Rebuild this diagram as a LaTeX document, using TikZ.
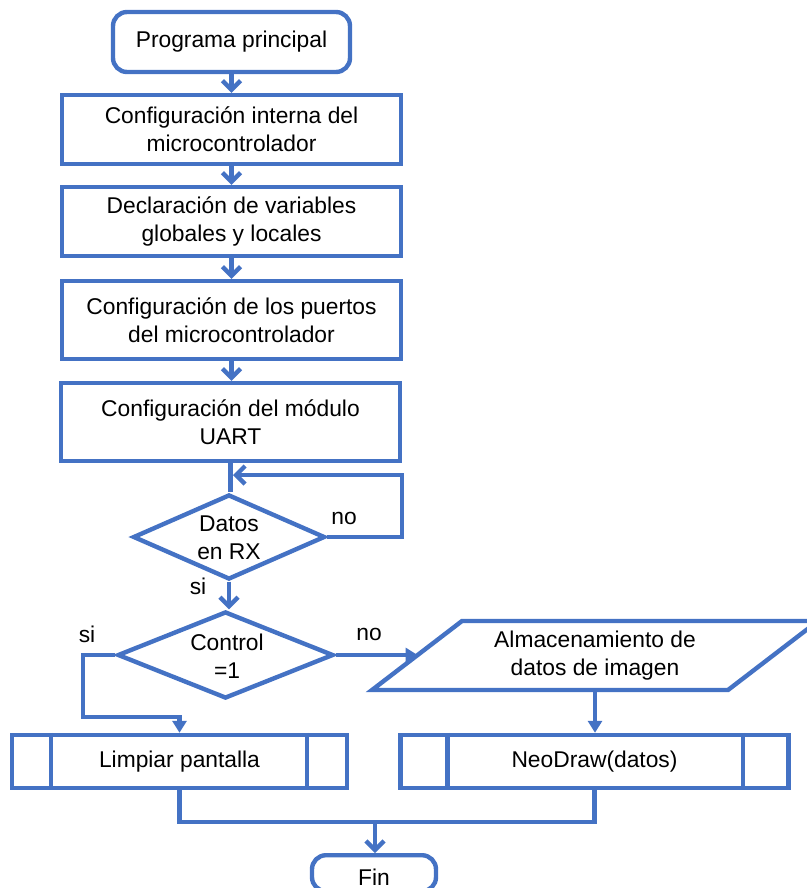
\documentclass[tikz,border=0pt]{standalone}
\usepackage{fontspec}
\setmainfont{Liberation Sans}
\usetikzlibrary{shapes.geometric,arrows.meta}
\definecolor{flow}{HTML}{4472C4}
\begin{document}
\begin{tikzpicture}[x=0.5pt,y=-0.5pt,
  every node/.style={font=\fontsize{11.4}{14}\selectfont, text=black},
  flowline/.style={draw=flow, line width=2.2pt},
  vee/.style={flowline, -{Straight Barb[length=4.5pt,width=9pt]}},
  tri/.style={flowline, -{Triangle[length=6pt,width=7pt]}},
  procbox/.style={flowline, rectangle, fill=white, align=center, inner sep=0pt},
  termbox/.style={procbox, rounded corners=7pt},
  decbox/.style={flowline, diamond, fill=white, inner sep=0pt},
  lbl/.style={inner sep=0pt, align=center}]

\useasboundingbox (0,0) rectangle (807,888);

% main column
\node[termbox, minimum width=118.5pt, minimum height=30pt] (start) at (231.5,42) {Programa principal};
\node[procbox, minimum width=169.5pt, minimum height=34.5pt] (b1) at (231.5,129.5) {Configuración interna del\\microcontrolador};
\node[procbox, minimum width=169.5pt, minimum height=34.5pt] (b2) at (231.5,221.5) {Declaración de variables\\globales y locales};
\node[procbox, minimum width=169.5pt, minimum height=39pt] (b3) at (231.5,320) {Configuración de los puertos\\del microcontrolador};
\node[procbox, minimum width=169.5pt, minimum height=39pt] (b4) at (230.5,422) {Configuración del módulo\\UART};

% decisions
\node[decbox, minimum width=96pt, minimum height=42.5pt] (d1) at (229,537) {};
\node[lbl] at (229,538) {Datos\\en RX};
\node[decbox, minimum width=108pt, minimum height=43.5pt] (d2) at (225.5,655) {};
\node[lbl] at (227,656) {Control\\=1};

% data storage (parallelogram)
\draw[flowline, fill=white] (372,690) -- (728,690) -- (818,621) -- (462,621) -- cycle;
\node[lbl] (alm) at (595,656) {Almacenamiento de\\datos de imagen};
\coordinate (almW) at (417.6,655);
\coordinate (almS) at (595,690);

% predefined processes
\node[procbox, minimum width=167.5pt, minimum height=26.5pt] (limp) at (179.5,761.5) {Limpiar pantalla};
\draw[flowline] ([xshift=20.5pt]limp.north west) -- ([xshift=20.5pt]limp.south west);
\draw[flowline] ([xshift=-21pt]limp.north east) -- ([xshift=-21pt]limp.south east);
\node[procbox, minimum width=194pt, minimum height=26.5pt] (neo) at (594.5,761.5) {NeoDraw(datos)};
\draw[flowline] ([xshift=24.5pt]neo.north west) -- ([xshift=24.5pt]neo.south west);
\draw[flowline] ([xshift=-24pt]neo.north east) -- ([xshift=-24pt]neo.south east);

% end
\node[termbox, minimum width=62pt, minimum height=18pt, anchor=north] (fin) at (374,853) {};
\node[lbl] at (374,877) {Fin};

% connectors
\draw[vee] (start.south) -- (b1.north -| start.south);
\draw[vee] (b1.south) -- (b2.north);
\draw[vee] (b2.south) -- (b3.north);
\draw[vee] (b3.south) -- (b3.south |- b4.north);
\draw[flowline] (b4.south) -- (b4.south |- d1.north);
\coordinate (loopR) at (402,475);
\coordinate (loopEnd) at (233,475);
\draw[vee] (d1.east) -| (loopR) -- (loopEnd);
\node[lbl] at (344,518) {no};

\draw[vee] (d1.south) -- (d1.south |- d2.north);
\node[lbl] at (198,586) {si};

\coordinate (siL) at (83,717);
\draw[tri] (d2.west) -| (siL) -| (limp.north);
\node[lbl] at (87,634) {si};
\draw[tri] (d2.east) -- (almW);
\node[lbl] at (369,634) {no};
\draw[tri] (almS) -- (almS |- neo.north);

\coordinate (join) at (375,822);
\draw[flowline] (limp.south) -- (limp.south |- join) -- (neo.south |- join) -- (neo.south);
\draw[vee] (join) -- (fin.north -| join);
\end{tikzpicture}
\end{document}
